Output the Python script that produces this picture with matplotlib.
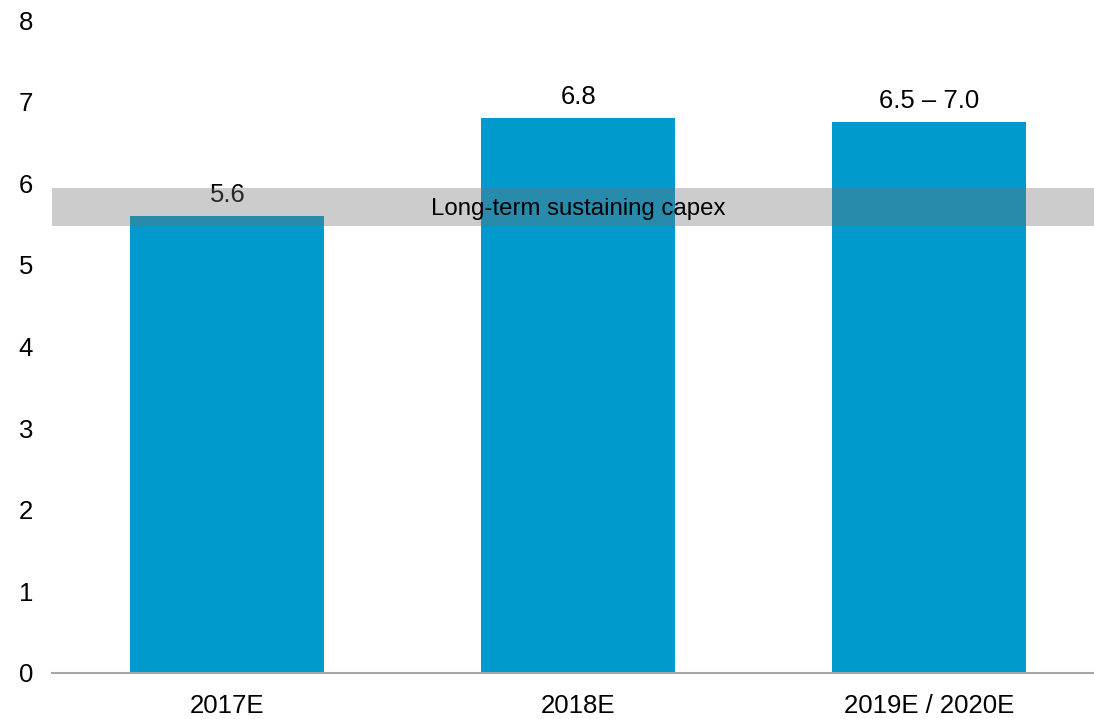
import matplotlib.pyplot as plt

plt.rcParams['font.family'] = ['Liberation Sans', 'DejaVu Sans']

categories = ['2017E', '2018E', '2019E / 2020E']
values = [5.6, 6.8, 6.75]
value_labels = ['5.6', '6.8', '6.5 \u2013 7.0']
band_low, band_high = 5.48, 5.94
band_label = 'Long-term sustaining capex'

fig = plt.figure(figsize=(10.94, 7.19), dpi=100)
ax = fig.add_axes([0.0475, 0.064, 0.9525, 0.908])

x = range(len(categories))
ax.bar(x, values, width=0.553, color='#009acd', zorder=2)

for xi, v, lab in zip(x, values, value_labels):
    ax.annotate(lab, (xi, v), xytext=(0, 10), textcoords='offset points',
                ha='center', va='baseline', fontsize=18.5, color='black', zorder=3)

ax.axhspan(band_low, band_high, xmin=-0.002, xmax=1, color='#727272', alpha=0.36,
           lw=0, zorder=4)
ax.text(1.0, (band_low + band_high) / 2 - 0.03, band_label, ha='center', va='center',
        fontsize=17.3, color='black', zorder=5)

ax.set_xlim(-0.5, 2.47)
ax.set_ylim(0, 8)
ax.set_yticks(range(0, 9))
ax.set_xticks(list(x))
ax.set_xticklabels(categories)
ax.tick_params(axis='both', length=0, labelsize=18.5)
ax.tick_params(axis='y', pad=13.5)
ax.tick_params(axis='x', pad=15)

for s in ['left', 'right', 'top']:
    ax.spines[s].set_visible(False)
ax.spines['bottom'].set_color('#a6a6a6')
ax.spines['bottom'].set_linewidth(1.5)

fig.savefig('out.png', dpi=100)
